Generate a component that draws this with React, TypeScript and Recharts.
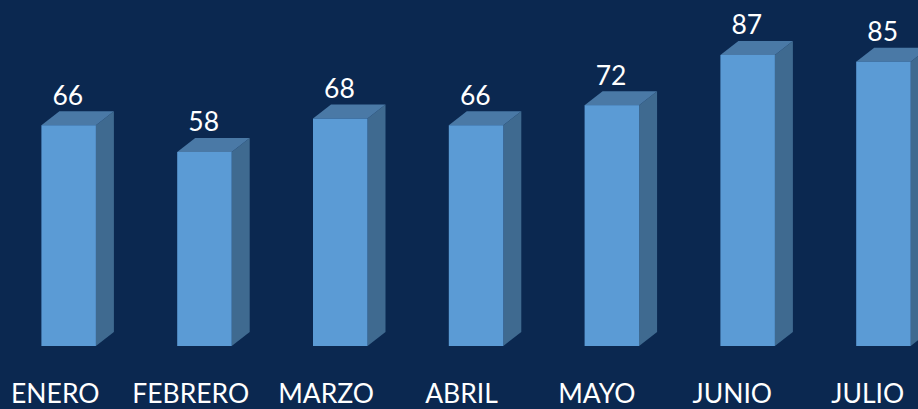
import React from "react";
import { BarChart, Bar, XAxis, YAxis, LabelList } from "recharts";

const months = ["ENERO", "FEBRERO", "MARZO", "ABRIL", "MAYO", "JUNIO", "JULIO"];
const values = [66, 58, 68, 66, 72, 87, 85];
const rows = months.map((month, i) => ({ month, value: values[i] }));

const FONT = "Lato, Carlito, sans-serif";
const DX = 18;
const DY = 14;

function Box3D(props: any) {
  const { x, y, width, height } = props;
  const r = x + width;
  const b = y + height;
  return (
    <g>
      <polygon points={`${r},${y} ${r + DX},${y - DY} ${r + DX},${b - DY} ${r},${b}`} fill="#3F6A90" />
      <polygon points={`${x},${y} ${x + DX},${y - DY} ${r + DX},${y - DY} ${r},${y}`} fill="#4A79A6" />
      <rect x={x} y={y} width={width} height={height} fill="#5B9BD5" />
    </g>
  );
}

function MonthTick(props: any) {
  const { x, y, payload, index } = props;
  return (
    <text x={x - 13 - index * 0.4} y={y} dy="0.71em" textAnchor="middle" fill="#FFFFFF" fontSize={26.5} fontFamily={FONT}>
      {payload.value}
    </text>
  );
}

export default function App() {
  return (
    <div style={{ position: "fixed", left: 0, top: 0, width: 918, height: 409, overflow: "hidden", background: "#0B2850" }}>
      <BarChart
        width={951.4}
        height={409}
        data={rows}
        margin={{ top: 11.5, right: 0.4, bottom: 0, left: 0.4 }}
        barSize={54.5}
      >
        <XAxis
          dataKey="month"
          interval={0}
          axisLine={false}
          tickLine={false}
          height={63}
          tick={MonthTick}
          tickMargin={32.5}
        />
        <YAxis hide domain={[0, 100]} />
        <Bar dataKey="value" isAnimationActive={false} shape={<Box3D />}>
          <LabelList dataKey="value" position="top" offset={20.5} dx={-0.8} fill="#FFFFFF" fontSize={26.5} fontFamily={FONT} />
        </Bar>
      </BarChart>
    </div>
  );
}
